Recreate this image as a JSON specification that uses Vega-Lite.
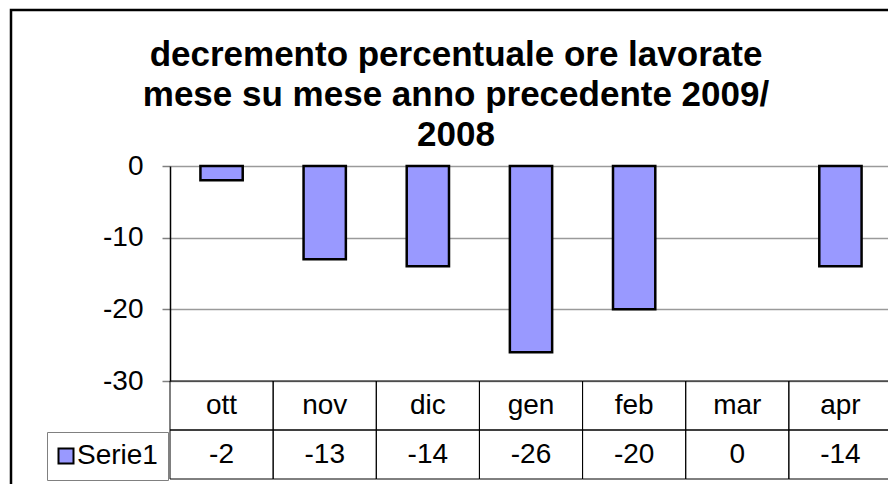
{
  "$schema": "https://vega.github.io/schema/vega-lite/v6.json",
  "width": 890,
  "height": 480,
  "autosize": {"type": "none"},
  "padding": {"left": 11, "top": 10, "right": 0, "bottom": 0},
  "background": "white",
  "config": {
    "view": {"stroke": "black", "strokeWidth": 2.5},
    "font": "Liberation Sans",
    "text": {"font": "Liberation Sans"}
  },
  "title": {
    "text": ["decremento percentuale ore lavorate", "mese su mese anno precedente 2009/", "2008"],
    "font": "Liberation Sans",
    "fontSize": 35,
    "fontWeight": "bold",
    "color": "black",
    "lineHeight": 40,
    "anchor": "middle",
    "frame": "group",
    "baseline": "alphabetic",
    "offset": 0,
    "dy": 171
  },
  "data": {
    "values": [
      {"mese": "ott", "valore": -2, "serie": "Serie1"},
      {"mese": "nov", "valore": -13, "serie": "Serie1"},
      {"mese": "dic", "valore": -14, "serie": "Serie1"},
      {"mese": "gen", "valore": -26, "serie": "Serie1"},
      {"mese": "feb", "valore": -20, "serie": "Serie1"},
      {"mese": "mar", "valore": 0, "serie": "Serie1"},
      {"mese": "apr", "valore": -14, "serie": "Serie1"}
    ]
  },
  "layer": [
    {
      "transform": [{"filter": "datum.valore != 0"}],
      "mark": {"type": "bar", "width": {"band": 0.41}, "stroke": "black", "strokeWidth": 2.5},
      "encoding": {
        "x": {
          "field": "mese", "type": "nominal",
          "scale": {"domain": ["ott", "nov", "dic", "gen", "feb", "mar", "apr"], "range": [159, 881], "paddingInner": 0, "paddingOuter": 0},
          "axis": null
        },
        "y": {
          "field": "valore", "type": "quantitative",
          "scale": {"domain": [-30, 0], "range": [371, 156], "nice": false},
          "axis": {
            "orient": "left", "offset": -159, "values": [0, -10, -20, -30], "grid": true,
            "gridColor": "#9a9a9a", "gridWidth": 1.5, "title": null,
            "labelExpr": "'' + datum.value",
            "domainColor": "black", "domainWidth": 1.5, "tickColor": "#808080", "tickSize": 8, "tickWidth": 1.5,
            "labelFontSize": 28, "labelColor": "black", "labelFont": "Liberation Sans", "labelPadding": 19,
            "labelFlush": false, "labelOverlap": false
          }
        },
        "color": {
          "field": "serie", "type": "nominal",
          "scale": {"range": ["#9999FF"]},
          "legend": {
            "orient": "none", "legendX": 36, "legendY": 422, "title": null,
            "strokeColor": "#808080", "padding": 10, "symbolType": "square", "symbolSize": 225,
            "symbolOffset": -5,
            "symbolStrokeColor": "black", "symbolStrokeWidth": 2, "symbolOpacity": 1,
            "labelFontSize": 28, "labelOffset": -3, "labelFont": "Liberation Sans", "labelColor": "black"
          }
        }
      }
    },
    {
      "transform": [{"fold": ["mese", "valore"], "as": ["riga", "testo"]}],
      "layer": [
        {
          "mark": {"type": "rect", "fillOpacity": 0, "stroke": "black", "strokeWidth": 1},
          "encoding": {
            "x": {"field": "mese", "type": "nominal"},
            "y": {"field": "riga", "type": "nominal", "scale": {"type": "band", "domain": ["mese", "valore"], "range": [371, 469], "paddingInner": 0, "paddingOuter": 0}, "axis": null}
          }
        },
        {
          "mark": {"type": "text", "fontSize": 28, "color": "black", "baseline": "middle", "align": "center"},
          "encoding": {
            "x": {"field": "mese", "type": "nominal"},
            "y": {"field": "riga", "type": "nominal", "scale": {"type": "band", "domain": ["mese", "valore"], "range": [371, 469], "paddingInner": 0, "paddingOuter": 0}, "axis": null},
            "text": {"field": "testo"}
          }
        }
      ]
    }
  ],
  "resolve": {"scale": {"y": "independent"}}
}
